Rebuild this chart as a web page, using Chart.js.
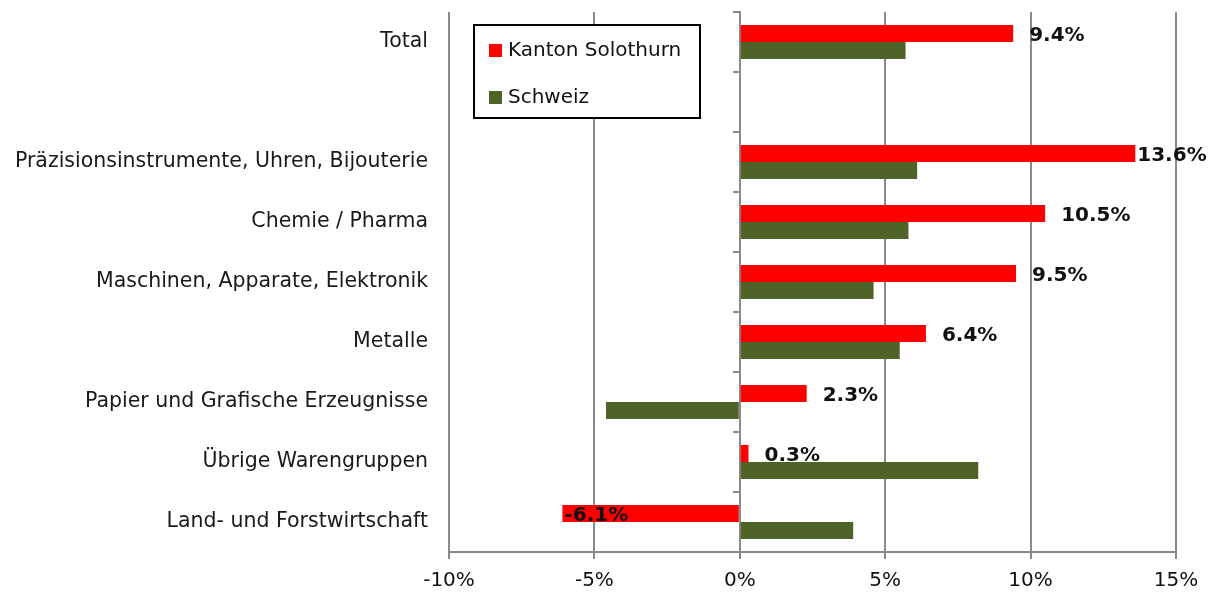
<!DOCTYPE html>
<html>
<head>
<meta charset="utf-8">
<script src="https://cdn.jsdelivr.net/npm/chart.js@4/dist/chart.umd.min.js"></script>
<style>
  html, body { margin: 0; padding: 0; background: #fff; }
  #wrap { width: 1212px; height: 593px; }
</style>
</head>
<body>
<div id="wrap"><canvas id="c" width="1212" height="593"></canvas></div>
<script>
const categories = [
  "Total",
  "",
  "Präzisionsinstrumente, Uhren, Bijouterie",
  "Chemie / Pharma",
  "Maschinen, Apparate, Elektronik",
  "Metalle",
  "Papier und Grafische Erzeugnisse",
  "Übrige Warengruppen",
  "Land- und Forstwirtschaft"
];
const seriesNames = ["Kanton Solothurn", "Schweiz"];
const solothurn = [9.4, null, 13.6, 10.5, 9.5, 6.4, 2.3, 0.3, -6.1];
const schweiz   = [5.7, null, 6.1, 5.8, 4.6, 5.5, -4.6, 8.2, 3.9];
const xTicks = [-10, -5, 0, 5, 10, 15];

const FONT = "'DejaVu Sans', Verdana, sans-serif";
const GRID = "#8a8a8a";

const labelPlugin = {
  id: 'valueLabels',
  afterDatasetsDraw(chart) {
    const ctx = chart.ctx;
    const meta = chart.getDatasetMeta(0);
    ctx.save();
    ctx.font = "bold 20px " + FONT;
    ctx.fillStyle = "#111";
    ctx.textBaseline = "middle";
    ctx.textAlign = "left";
    meta.data.forEach((bar, i) => {
      const v = solothurn[i];
      if (v === null || v === undefined) return;
      const txt = v.toFixed(1) + "%";
      const w = ctx.measureText(txt).width;
      let x;
      if (v < 0) {
        x = bar.x + 2;
      } else {
        x = bar.x + 16;
        if (x + w > chart.width - 2) x = bar.x + 2;
      }
      ctx.fillText(txt, x, bar.y + 2);
    });
    ctx.restore();
  }
};

const legendPlugin = {
  id: 'boxLegend',
  afterDraw(chart) {
    const ctx = chart.ctx;
    const a = chart.chartArea;
    const bx = a.left + 25, by = a.top + 13, bw = 226, bh = 93;
    ctx.save();
    ctx.fillStyle = "#fff";
    ctx.fillRect(bx, by, bw, bh);
    ctx.strokeStyle = "#000";
    ctx.lineWidth = 2;
    ctx.strokeRect(bx, by, bw, bh);
    ctx.font = "20px " + FONT;
    ctx.textBaseline = "middle";
    ctx.textAlign = "left";
    chart.data.datasets.forEach((ds, i) => {
      const cy = by + 25 + i * 47;
      ctx.fillStyle = ds.backgroundColor;
      ctx.fillRect(bx + 15, cy - 6, 13, 13);
      ctx.fillStyle = "#111";
      ctx.fillText(ds.label, bx + 34, cy + 1);
    });
    ctx.restore();
  }
};

new Chart(document.getElementById('c'), {
  type: 'bar',
  data: {
    labels: categories,
    datasets: [
      { label: seriesNames[0], data: solothurn, backgroundColor: "#ff0000", categoryPercentage: 0.57, barPercentage: 1.0 },
      { label: seriesNames[1], data: schweiz, backgroundColor: "#4f6228", categoryPercentage: 0.57, barPercentage: 1.0 }
    ]
  },
  options: {
    indexAxis: 'y',
    responsive: false,
    animation: false,
    devicePixelRatio: 1,
    layout: { padding: { top: 12, right: 36, left: 0, bottom: 0 } },
    plugins: {
      legend: { display: false },
      tooltip: { enabled: false }
    },
    scales: {
      x: {
        type: 'linear',
        min: xTicks[0],
        max: xTicks[xTicks.length - 1],
        afterBuildTicks(scale) { scale.ticks = xTicks.map(v => ({ value: v })); },
        afterFit(scale) { scale.height = 41; scale.paddingLeft = 0; scale.paddingRight = 0; },
        ticks: {
          callback: v => v + "%",
          font: { family: FONT, size: 20 },
          color: "#111",
          padding: 10,
          maxRotation: 0
        },
        grid: { color: GRID, lineWidth: 2, tickLength: 7, drawTicks: true },
        border: { display: true, color: GRID, width: 2 }
      },
      y: {
        type: 'category',
        position: 'left',
        afterFit(scale) { scale.width = 449; scale.paddingTop = 0; scale.paddingBottom = 0; },
        ticks: {
          font: { family: FONT, size: 20.5 },
          color: "#1a1a1a",
          padding: 21,
          autoSkip: false
        },
        grid: { display: false, drawTicks: false },
        border: { display: false }
      },
      y2: {
        type: 'category',
        axis: 'y',
        position: { x: 0 },
        offset: true,
        afterFit(scale) { scale.paddingTop = 0; scale.paddingBottom = 0; },
        ticks: { display: false },
        grid: { offset: true, drawOnChartArea: false, drawTicks: true, tickLength: 6, color: GRID, lineWidth: 2 },
        border: { display: true, color: GRID, width: 2 }
      }
    }
  },
  plugins: [labelPlugin, legendPlugin]
});
</script>
</body>
</html>
